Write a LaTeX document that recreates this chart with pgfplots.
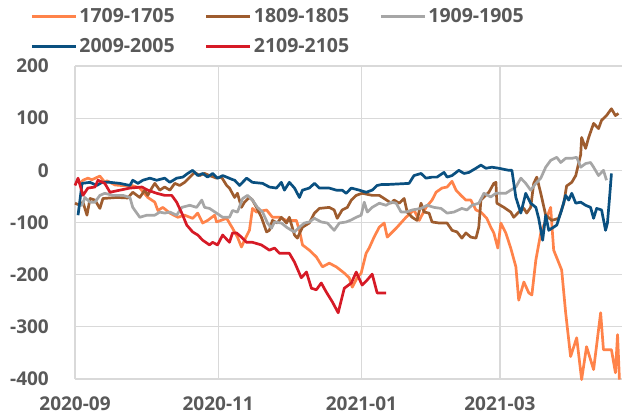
\documentclass[border=0pt]{standalone}
\usepackage{pgfplots}
\pgfplotsset{compat=1.18}
\usepackage{fontspec}
\setmainfont{Open Sans}
\definecolor{cOr}{RGB}{255,131,74}
\definecolor{cBr}{RGB}{158,92,46}
\definecolor{cGy}{RGB}{166,166,166}
\definecolor{cBl}{RGB}{10,80,128}
\definecolor{cRd}{RGB}{214,26,38}
\definecolor{cGrid}{RGB}{217,217,217}
\definecolor{cTxt}{RGB}{89,89,89}
\begin{document}
\begin{tikzpicture}
\begin{axis}[
  scale only axis,
  width=547bp, height=313bp,
  xmin=0, xmax=233, ymin=-400, ymax=200,
  axis line style={draw=none},
  clip=false,
  grid=major,
  major grid style={cGrid, line width=1.3bp},
  xtick={0,61,122,181},
  xticklabels={2020-09,2020-11,2021-01,2021-03},
  ytick={-400,-300,-200,-100,0,100,200},
  yticklabels={-400,-300,-200,-100,0,100,200},
  major tick length=0pt,
  tick style={draw=none},
  tick label style={font=\fontsize{19bp}{21bp}\selectfont\bfseries, text=cTxt, inner sep=0pt},
  yticklabel style={anchor=east, xshift=-26bp},
  xticklabel style={anchor=north, yshift=-18bp},
  every axis plot/.append style={line width=2.7bp, line join=round},
  legend columns=3,
  legend style={draw=none, fill=none, at={(-0.0823,1.19)}, anchor=north west,
    font=\fontsize{19.5bp}{22bp}\selectfont\bfseries, text=cTxt,
    inner sep=0pt, row sep=10bp,
    /tikz/every even column/.append style={column sep=28bp}},
  legend image code/.code={\draw[#1, line width=3.2bp] (0bp,0bp) -- (44bp,0bp);},
]
\addplot[cOr] coordinates {(2.1,-25)(3.4,-19)(5.5,-15)(7.2,-18)(10.6,-11)(12.7,-23)(13.6,-20)(17,-28)(22,-30)(24.2,-29)(27.6,-34)(31.0,-52)(34.0,-61)(35.3,-77)(37.4,-71)(40.4,-82)(43.8,-90)(46.7,-86)(50.1,-92)(52.3,-82)(54.4,-101)(56.5,-96)(59.5,-86)(60.3,-99)(64.6,-92)(67.1,-111)(69.2,-128)(70.9,-147)(72.2,-134)(74.3,-115)(75.6,-73)(77.3,-80)(81.6,-76)(84.1,-90)(87.1,-90)(90.1,-96)(94.3,-96)(95.6,-115)(96.9,-143)(99.8,-153)(102.8,-166)(105.4,-185)(108.3,-178)(111.3,-185)(114.7,-197)(116.8,-206)(118.1,-224)(120.2,-206)(121.9,-197)(124.0,-159)(125.3,-149)(127.4,-128)(129.6,-109)(131.7,-101)(133.0,-128)(136.8,-111)(141.0,-90)(144.4,-76)(146.6,-96)(149.5,-71)(152.1,-57)(153.8,-42)(156.3,-34)(158.5,-32)(160.6,-21)(162.3,-38)(164.4,-48)(166.5,-57)(168.6,-57)(170.8,-76)(172.9,-80)(175.4,-92)(177.1,-109)(178.4,-120)(180.1,-149)(181.4,-101)(183.5,-120)(185.6,-149)(187.8,-185)(189.0,-249)(191.2,-214)(193.3,-235)(194.6,-239)(196.3,-172)(198.4,-120)(200.5,-96)(202.6,-71)(203.9,-153)(207.3,-191)(209.0,-273)(211.1,-357)(213.7,-321)(215.8,-401)(217.9,-338)(220.9,-382)(223.9,-273)(225.1,-344)(228.5,-344)(230.2,-388)(231.1,-315)(231.9,-401)};
\addlegendentry{1709-1705}
\addplot[cBr] coordinates {(0,-63)(2.1,-67)(3.4,-61)(5.1,-86)(6.4,-54)(8.5,-57)(10.6,-73)(11.9,-54)(17.8,-52)(22.5,-53)(24.6,-42)(27.6,-52)(29.7,-38)(31.0,-48)(32.7,-34)(34.0,-25)(36.1,-38)(38.2,-32)(40.4,-38)(42.5,-25)(44.6,-29)(46.7,-23)(48.9,-13)(51.0,-4)(53.1,-10)(55.2,-6)(57.3,-10)(60.3,-15)(62.4,-13)(64.6,-29)(65.8,-34)(68.0,-52)(69.2,-44)(70.9,-71)(72.2,-61)(74.3,-52)(75.6,-57)(77.3,-71)(79.4,-90)(81.6,-118)(82.8,-115)(84.1,-96)(86.2,-101)(87.9,-90)(90.1,-101)(91.3,-90)(93.5,-124)(94.7,-130)(96.9,-109)(99.8,-101)(102.0,-82)(104.1,-73)(108.3,-71)(110.4,-76)(111.7,-92)(113.8,-76)(116.0,-71)(117.7,-57)(119.8,-48)(122.3,-44)(124.5,-46)(126.6,-48)(129.6,-48)(131.7,-54)(134.7,-63)(135.9,-57)(138.1,-63)(140.2,-54)(141.5,-80)(143.6,-90)(145.7,-96)(147.4,-63)(148.7,-80)(150.8,-82)(152.1,-99)(155.1,-101)(158.5,-101)(160.6,-115)(162.7,-118)(164.8,-130)(166.5,-120)(168.6,-128)(170.8,-130)(172.0,-109)(172.9,-57)(174.2,-51)(176.3,-42)(178.4,-25)(179.3,-23)(179.7,-63)(182.7,-71)(185.6,-80)(186.9,-90)(189.0,-80)(191.2,-73)(192.4,-82)(194.1,-71)(195.4,-25)(196.7,-13)(198.4,-44)(200.5,-86)(203.1,-96)(206.0,-92)(208.2,-63)(209.4,-30)(211.6,-23)(213.3,-10)(214.5,13)(215.4,30)(215.8,63)(217.5,42)(218.8,63)(220.9,90)(223.0,80)(224.3,96)(226.4,105)(228.5,118)(230.2,105)(231.5,109)};
\addlegendentry{1809-1805}
\addplot[cGy] coordinates {(1.3,-65)(3.0,-67)(4.2,-52)(6.4,-61)(8.5,-61)(10.6,-48)(12.7,-44)(16.1,-48)(20.4,-48)(23.4,-52)(24.6,-71)(27.6,-90)(30.6,-86)(34.0,-86)(36.1,-80)(38.2,-82)(40.4,-80)(43.3,-86)(45.5,-71)(48.9,-67)(51.8,-71)(54.0,-57)(55.2,-71)(57.3,-73)(60.3,-82)(62.9,-90)(65.8,-90)(67.1,-77)(69.2,-80)(71.4,-54)(73.5,-48)(75.6,-57)(77.7,-71)(79.9,-80)(82.0,-101)(83.7,-111)(85.0,-99)(87.9,-101)(90.1,-109)(92.2,-115)(93.5,-118)(95.6,-109)(97.7,-101)(99.8,-99)(102.0,-92)(104.9,-99)(107.5,-101)(110.4,-115)(112.6,-101)(115.5,-99)(117.7,-95)(119.8,-90)(121.9,-86)(123.2,-61)(124.5,-80)(126.6,-71)(129.6,-63)(132.5,-67)(134.7,-61)(136.8,-63)(138.9,-80)(141.0,-80)(143.6,-76)(147.4,-73)(150.0,-67)(152.9,-71)(155.9,-73)(158.5,-82)(161.4,-80)(164.8,-73)(166.9,-76)(169.1,-67)(172.0,-63)(174.2,-44)(177.1,-51)(179.3,-44)(183.5,-44)(185.6,-38)(187.8,-32)(189.9,-15)(192.0,-25)(194.1,-38)(196.3,-25)(198.4,-15)(200.5,6)(202.6,19)(205.2,25)(206.9,15)(209.0,23)(211.6,23)(213.7,25)(215.4,6)(217.5,13)(219.6,15)(220.9,6)(223.0,-10)(225.1,0)(226.4,-19)};
\addlegendentry{1909-1905}
\addplot[cBl] coordinates {(1.3,-86)(3.0,-25)(6.4,-23)(9.3,-29)(11.5,-23)(14.9,-23)(19.1,-25)(23.4,-29)(24.6,-19)(26.8,-25)(28.9,-19)(31.9,-15)(34.8,-19)(38.2,-15)(40.4,-23)(43.3,-15)(45.9,-13)(48.0,-6)(50.1,0)(52.3,-10)(54.4,-6)(56.5,-13)(58.6,-6)(60.7,-15)(62.9,-10)(64.6,-13)(66.7,-17)(68.0,-19)(70.1,-29)(73.1,-15)(75.6,-23)(79.9,-25)(82.8,-32)(85.8,-34)(87.9,-23)(89.2,-38)(91.3,-23)(93.5,-34)(95.6,-52)(96.9,-38)(99.8,-34)(102.0,-25)(104.1,-34)(108.3,-34)(111.3,-38)(113.8,-38)(115.5,-44)(117.7,-34)(121.1,-38)(124.0,-42)(126.6,-38)(128.7,-29)(130.8,-27)(133.8,-27)(142.3,-25)(144.4,-10)(147.4,-6)(149.5,-15)(152.1,-13)(154.2,-13)(157.2,-4)(158.5,-13)(160.6,-10)(163.5,0)(165.7,-6)(167.8,-4)(170.8,4)(172.9,10)(175.0,4)(177.6,6)(180.5,4)(184.8,0)(186.1,0)(187.8,-52)(189.9,-82)(192.0,-44)(194.1,-63)(196.3,-71)(197.5,-92)(199.2,-134)(200.5,-86)(201.8,-115)(205.2,-105)(207.3,-76)(209.0,-48)(210.3,-57)(211.6,-44)(213.3,-63)(215.4,-61)(217.5,-67)(219.6,-71)(220.9,-92)(222.2,-73)(224.3,-76)(226.0,-115)(226.8,-101)(227.7,-52)(228.5,-6)};
\addlegendentry{2009-2005}
\addplot[cRd] coordinates {(0,-29)(1.3,-15)(3.4,-48)(5.5,-34)(8.5,-32)(9.8,-19)(12.7,-25)(14.9,-42)(23.4,-34)(28.5,-32)(31.0,-38)(34.8,-44)(38.2,-48)(41.2,-48)(43.3,-61)(45.9,-86)(47.6,-105)(50.1,-118)(52.3,-124)(54.4,-134)(57.3,-143)(58.6,-138)(60.7,-143)(62.9,-124)(65.8,-138)(67.1,-120)(68.8,-120)(70.9,-128)(73.1,-138)(75.6,-138)(79.4,-143)(82.8,-153)(85.0,-149)(87.1,-159)(91.3,-159)(93.5,-176)(96.4,-206)(98.6,-195)(100.7,-226)(102.8,-229)(104.9,-216)(107.0,-233)(109.6,-252)(112.1,-273)(114.7,-226)(117.7,-216)(119.8,-195)(122.3,-220)(124.5,-210)(126.6,-199)(128.7,-235)(132.5,-235)};
\addlegendentry{2109-2105}
\end{axis}
\path (current axis.south west) ++(-75bp,-39bp) coordinate (bbA);
\path (current axis.north east) ++(2bp,66bp) coordinate (bbB);
\pgfresetboundingbox
\useasboundingbox (bbA) rectangle (bbB);
\end{tikzpicture}
\end{document}
